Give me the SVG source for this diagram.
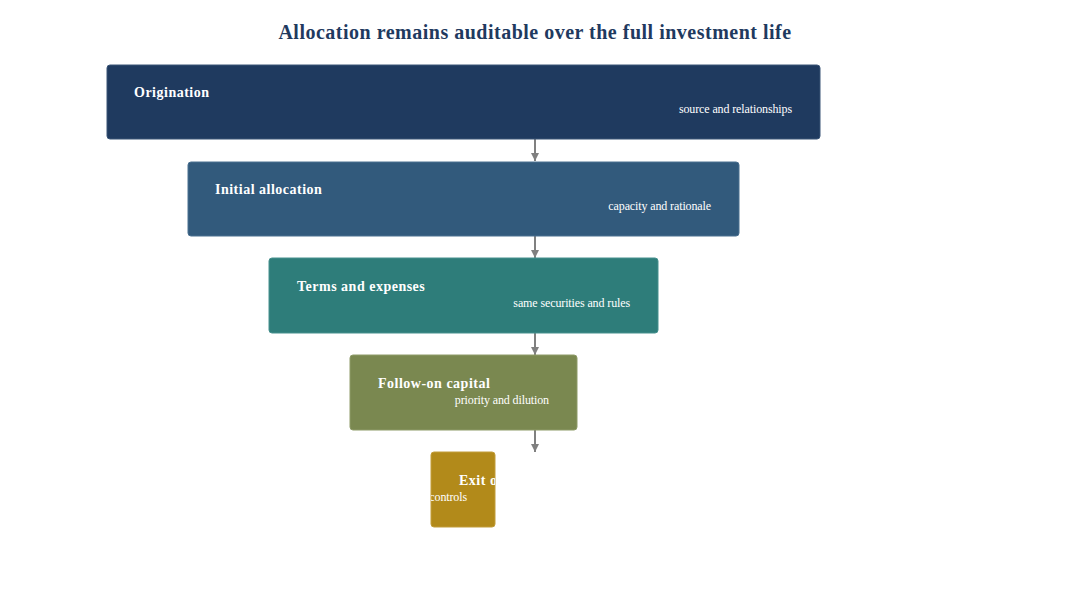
<svg xmlns="http://www.w3.org/2000/svg" width="1070" height="610" viewBox="0 0 1070 610">
<style>
.title{font-family:"Liberation Serif","Times New Roman",serif;font-weight:bold;font-size:20px;fill:#1f3a5f;letter-spacing:0.5px}
.nt{font-family:"Liberation Serif","Times New Roman",serif;font-weight:bold;font-size:14px;fill:#ffffff;letter-spacing:0.5px}
.ns{font-family:"Liberation Serif","Times New Roman",serif;font-size:12px;fill:#ffffff;text-anchor:end;letter-spacing:-0.12px}
.conn{stroke:#808080;stroke-width:2;fill:none}
</style>
<defs>
<marker id="arr" viewBox="0 0 10 10" refX="10" refY="5" markerWidth="4" markerHeight="4" orient="auto" markerUnits="strokeWidth">
<path d="M0,0 L10,5 L0,10 z" fill="#808080"/>
</marker>
<clipPath id="c5"><rect x="431" y="452" width="64" height="75"/></clipPath>
</defs>
<rect width="1070" height="610" fill="#ffffff"/>
<text class="title" x="535" y="39" text-anchor="middle">Allocation remains auditable over the full investment life</text>
<g id="connectors">
<line class="conn" x1="535" y1="139" x2="535" y2="161" marker-end="url(#arr)"/>
<line class="conn" x1="535" y1="236" x2="535" y2="258" marker-end="url(#arr)"/>
<line class="conn" x1="535" y1="333" x2="535" y2="355" marker-end="url(#arr)"/>
<line class="conn" x1="535" y1="430" x2="535" y2="452" marker-end="url(#arr)"/>
</g>
<g id="origination">
<rect x="107" y="65" width="713" height="74" rx="3" fill="#1f3a5f" stroke="#3a5577" stroke-width="1"/>
<text class="nt" x="134" y="97">Origination</text>
<text class="ns" x="792" y="113">source and relationships</text>
</g>
<g id="initial-allocation">
<rect x="188" y="162" width="551" height="74" rx="3" fill="#325a7c" stroke="#4a7090" stroke-width="1"/>
<text class="nt" x="215" y="194">Initial allocation</text>
<text class="ns" x="711" y="210">capacity and rationale</text>
</g>
<g id="terms-and-expenses">
<rect x="269" y="258" width="389" height="75" rx="3" fill="#2e7d7a" stroke="#47918e" stroke-width="1"/>
<text class="nt" x="297" y="291">Terms and expenses</text>
<text class="ns" x="630" y="307">same securities and rules</text>
</g>
<g id="follow-on-capital">
<rect x="350" y="355" width="227" height="75" rx="3" fill="#7a8850" stroke="#8e9b68" stroke-width="1"/>
<text class="nt" x="378" y="388">Follow-on capital</text>
<text class="ns" x="549" y="404">priority and dilution</text>
</g>
<g id="exit">
<rect x="431" y="452" width="64" height="75" rx="3" fill="#b28a1a" stroke="#c29d3a" stroke-width="1"/>
<g clip-path="url(#c5)">
<text class="nt" x="459" y="485">Exit o</text>
<text class="ns" x="467" y="501">controls</text>
</g>
</g>
</svg>
